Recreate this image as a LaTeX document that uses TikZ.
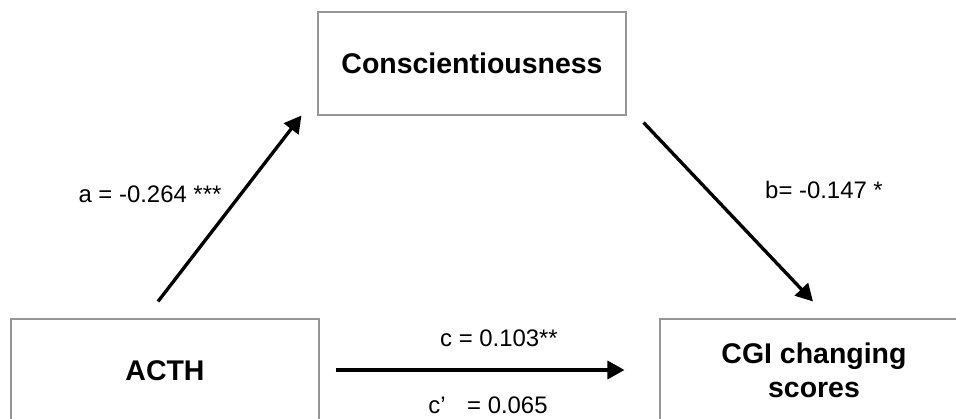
\documentclass[tikz,border=0pt]{standalone}
\usepackage{fontspec}
\setmainfont{Liberation Sans}
\usepackage{tikz}
\usetikzlibrary{arrows.meta,positioning}
\definecolor{bx}{RGB}{150,150,150}

\begin{document}
\begin{tikzpicture}[
  box/.style={draw=bx, line width=0.6pt, minimum width=6.16cm, minimum height=2.06cm, align=center, font=\fontsize{16.2}{19}\selectfont\bfseries},
  arrow/.style={-{Triangle[length=3.4mm, width=3.6mm]}, line width=1.9pt, color=black},
  lbl/.style={font=\fontsize{13.6}{16}\selectfont}
]
\useasboundingbox (0,0) rectangle (19.12,8.36);
\clip (0,0) rectangle (19.12,8.36);
\node[box] (consc) at (9.44,7.09) {Conscientiousness};
\node[box] (acth) at (3.30,0.95) {ACTH};
\node[box] (cgi) at (16.28,0.95) {CGI changing\\scores};
% paths
\draw[arrow] ([shift={(-0.14,0.34)}]acth.north) -- ([shift={(-0.32,0)}]consc.south west);
\draw[arrow] ([shift={(0.34,-0.14)}]consc.south east) -- ([shift={(-0.02,0.34)}]cgi.north);
\draw[arrow] ([shift={(0.32,0.01)}]acth.east) -- ([shift={(-0.70,0.01)}]cgi.west);
% coefficients
\node[lbl] (la) at (3.00,4.48) {a = -0.264 ***};
\node[lbl] (lb) at (16.48,4.56) {b= -0.147 *};
\node[lbl] (lc) at (9.98,1.60) {c = 0.103**};
\node[lbl] (lcp) at (9.76,0.26) {c’\hspace{0.9em}= 0.065};
\end{tikzpicture}
\end{document}
